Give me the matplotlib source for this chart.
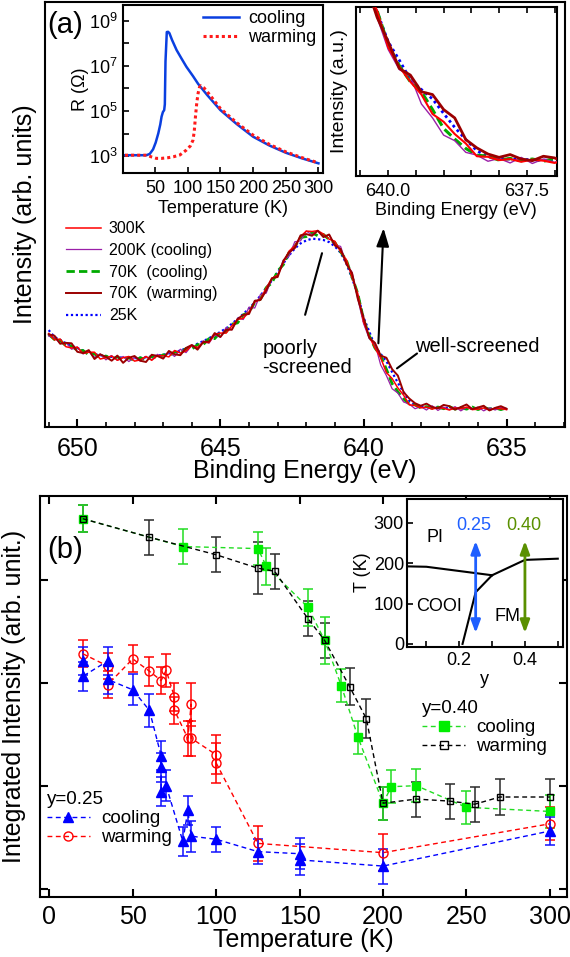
import matplotlib.pyplot as plt
import numpy as np
from matplotlib.lines import Line2D
from matplotlib.ticker import MultipleLocator, FixedLocator, NullFormatter

plt.rcParams['font.family'] = ['Liberation Sans', 'DejaVu Sans']
plt.rcParams['mathtext.fontset'] = 'custom'
plt.rcParams['mathtext.rm'] = 'Liberation Sans'
plt.rcParams['mathtext.default'] = 'regular'
plt.rcParams['axes.linewidth'] = 1.5
plt.rcParams['xtick.direction'] = 'in'
plt.rcParams['ytick.direction'] = 'in'

# ---------------- panel (a): XPS spectra (intensity x1000, arb. units)
energy = np.round(np.arange(651.0, 634.9, -0.2), 1)
spec_300 = [220, 205, 207, 189, 186, 188, 173, 176, 176, 160, 163, 167, 157, 163, 166, 155,
            158, 166, 157, 168, 168, 165, 180, 174, 179, 192, 187, 199, 199, 218, 221, 221,
            238, 253, 256, 271, 294, 301, 327, 350, 357, 387, 414, 426, 448, 461, 460, 462,
            454, 442, 437, 412, 394, 352, 314, 248, 213, 186, 163, 128, 114, 92, 75, 52,
            51, 45, 47, 42, 46, 44, 40, 45, 43, 47, 41, 42, 45, 40, 44, 43, 41]
spec_200c = [214, 211, 196, 199, 183, 188, 172, 178, 164, 172, 158, 168, 157, 166, 154, 164,
             155, 166, 158, 171, 161, 176, 166, 183, 175, 192, 184, 203, 197, 217, 211, 234,
             229, 256, 253, 282, 280, 312, 315, 350, 356, 393, 402, 436, 438, 461, 452, 462,
             447, 452, 428, 425, 384, 364, 302, 244, 208, 196, 146, 121, 90, 80, 59, 54,
             43, 48, 40, 50, 39, 47, 41, 48, 38, 46, 42, 47, 38, 45, 40, 46, 41]
spec_70c = [218, 206, 204, 191, 191, 180, 180, 170, 172, 163, 167, 160, 165, 158, 163, 156,
            163, 158, 166, 162, 170, 167, 177, 174, 185, 183, 194, 194, 208, 208, 223, 224,
            242, 245, 264, 270, 293, 301, 328, 339, 367, 382, 411, 425, 446, 448, 457, 450,
            453, 441, 434, 412, 393, 353, 314, 253, 215, 186, 168, 136, 102, 83, 66, 54,
            52, 45, 48, 44, 47, 43, 48, 42, 46, 42, 47, 41, 46, 42, 45, 41, 45]
spec_70w = [218, 215, 196, 198, 197, 177, 174, 181, 160, 171, 165, 156, 168, 151, 163, 167,
            156, 153, 170, 167, 161, 179, 171, 169, 186, 193, 182, 200, 201, 221, 212, 229,
            229, 254, 264, 266, 297, 299, 321, 350, 353, 391, 411, 421, 451, 454, 450, 462,
            447, 453, 427, 419, 384, 362, 302, 258, 210, 198, 168, 163, 136, 121, 82, 67,
            56, 50, 55, 47, 44, 52, 49, 41, 47, 53, 42, 46, 50, 39, 45, 49, 43]
spec_25 = [228, 212, 205, 197, 191, 186, 180, 176, 171, 169, 167, 165, 164, 163, 162, 162,
           163, 164, 166, 168, 170, 173, 176, 180, 185, 190, 196, 202, 209, 216, 224, 232,
           243, 254, 266, 279, 293, 309, 327, 345, 364, 385, 404, 420, 432, 439, 443, 442,
           440, 435, 425, 410, 385, 350, 312, 258, 225, 190, 172, 155, 129, 104, 82, 62,
           51, 48, 47, 46, 46, 45, 45, 44, 44, 44, 43, 44, 43, 43, 43, 42, 43]
spec_labels = ['300K', '200K (cooling)', '70K  (cooling)', '70K  (warming)', '25K']

# resistance inset (log10 R)
t_cool = [4, 20, 37, 42, 47, 51, 55, 58, 60, 62, 64, 65, 66, 68, 70, 72, 76, 83, 90, 98,
          108, 116, 130, 150, 175, 200, 225, 250, 275, 300]
logr_cool = [3.04, 3.04, 3.04, 3.10, 3.30, 3.60, 4.01, 4.40, 4.75, 4.95, 5.04, 5.30, 7.20,
             8.50, 8.51, 8.45, 8.15, 7.70, 7.35, 6.96, 6.55, 6.20, 5.70, 5.04, 4.42, 3.86,
             3.47, 3.15, 2.90, 2.68]
t_warm = [4, 20, 37, 45, 52, 60, 70, 78, 88, 98, 104, 108, 110, 112, 114, 116, 118, 120,
          125, 130, 150, 175, 200, 225, 250, 275, 300]
logr_warm = [3.04, 3.04, 3.04, 2.96, 2.90, 2.90, 2.93, 2.97, 3.05, 3.27, 3.45, 3.70, 4.10,
             4.80, 5.40, 5.80, 6.05, 6.12, 6.02, 5.85, 5.11, 4.48, 3.93, 3.52, 3.19, 2.93, 2.70]

# ---------------- panel (b): integrated intensity
t_c25 = [20, 20, 35, 35, 50, 60, 67, 67, 67, 70, 80, 83, 85, 100, 125, 150, 150, 200, 300]
i_c25 = [2.21, 2.06, 2.21, 2.03, 1.93, 1.73, 1.29, 1.18, 0.94, 1.00, 0.46, 0.76, 0.51, 0.48,
         0.36, 0.34, 0.28, 0.22, 0.56]
e_c25 = [0.14, 0.14, 0.14, 0.14, 0.15, 0.16, 0.14, 0.14, 0.14, 0.15, 0.14, 0.14, 0.15, 0.12,
         0.12, 0.15, 0.15, 0.17, 0.14]
t_w25 = [20, 35, 35, 50, 60, 67, 70, 75, 75, 83, 85, 85, 100, 100, 125, 200, 300]
i_w25 = [2.28, 2.16, 1.98, 2.23, 2.11, 2.02, 2.12, 1.86, 1.73, 1.46, 1.79, 1.46, 1.30, 1.22,
         0.44, 0.35, 0.63]
e_w25 = [0.13, 0.13, 0.13, 0.13, 0.14, 0.13, 0.16, 0.14, 0.13, 0.17, 0.21, 0.17, 0.19, 0.19,
         0.17, 0.18, 0.16]
t_c40 = [20, 80, 125, 130, 155, 165, 175, 185, 200, 205, 220, 250, 300]
i_c40 = [3.59, 3.32, 3.30, 3.13, 2.73, 2.41, 1.97, 1.47, 0.83, 0.99, 1.00, 0.79, 0.75]
e_c40 = [0.13, 0.17, 0.16, 0.18, 0.18, 0.23, 0.16, 0.16, 0.16, 0.16, 0.16, 0.16, 0.16]
t_w40 = [20, 60, 100, 125, 135, 155, 165, 180, 190, 200, 220, 240, 255, 270, 300]
i_w40 = [3.59, 3.41, 3.24, 3.11, 3.08, 2.62, 2.41, 1.96, 1.65, 0.83, 0.87, 0.85, 0.82, 0.89, 0.89]
e_w40 = [0.13, 0.17, 0.17, 0.25, 0.17, 0.17, 0.17, 0.18, 0.19, 0.16, 0.17, 0.17, 0.17, 0.17, 0.17]

# phase diagram inset
pd_y1, pd_t1 = [0.04, 0.10, 0.30], [192, 191, 170]
pd_y2, pd_t2 = [0.30, 0.40, 0.50], [170, 208, 211]
pd_y3, pd_t3 = [0.30, 0.25, 0.21], [170, 128, 0]
arrow_y = [0.25, 0.40]
arrow_t = (27, 255)

fig = plt.figure(figsize=(5.7, 9.57), dpi=100)

# ================= panel (a)
ax1 = fig.add_axes([0.0789, 0.5538, 0.9123, 0.4441])
styles = [
    dict(color='#ff0000', lw=1.1, ls='-', zorder=4),
    dict(color='#9a1fa8', lw=0.9, ls='-', zorder=3),
    dict(color='#00aa00', lw=2.0, ls=(0, (3, 1.5)), zorder=2),
    dict(color='#9b0000', lw=1.4, ls='-', zorder=5),
    dict(color='#0000ff', lw=1.6, ls=(0, (1, 1.2)), zorder=1),
]
series = [spec_300, spec_200c, spec_70c, spec_70w, spec_25]
handles = []
for s, st, lab in zip(series, styles, spec_labels):
    h, = ax1.plot(energy, np.array(s) / 1000.0, label=lab, **st)
    handles.append(h)
ax1.set_xlim(651.13, 632.96)
ax1.set_ylim(0, 1)
ax1.set_xticks([650, 645, 640, 635])
ax1.xaxis.set_minor_locator(MultipleLocator(1))
ax1.set_yticks([])
ax1.tick_params(axis='x', which='major', labelsize=18, length=6, width=1.5, pad=7)
ax1.tick_params(axis='x', which='minor', length=3.5, width=1.2)
ax1.set_xlabel('Binding Energy (eV)', fontsize=18, labelpad=-1)
ax1.set_ylabel('Intensity (arb. units)', fontsize=18, labelpad=6)
ax1.text(0.004, 0.946, '(a)', transform=ax1.transAxes, fontsize=21, ha='left', va='center')
ax1.legend(handles=handles, loc='upper left', bbox_to_anchor=(0.04, 0.484), frameon=False,
           fontsize=11.5, handlelength=2.2, handletextpad=0.5, labelspacing=0.42,
           borderpad=0, borderaxespad=0)

ax1.text(643.54, 0.1635, 'poorly\n-screened', fontsize=14.5, ha='left', va='center',
         linespacing=1.0)
ax1.annotate('', xy=(641.45, 0.409), xytext=(642.04, 0.264),
             arrowprops=dict(arrowstyle='-', lw=1.5, color='k', shrinkA=0, shrinkB=0))
ax1.annotate('', xy=(639.30, 0.468), xytext=(639.48, 0.197),
             arrowprops=dict(arrowstyle='-|>,head_length=1.1,head_width=0.38', lw=1.5,
                             color='k', shrinkA=0, shrinkB=0))
ax1.text(638.19, 0.189, 'well-screened', fontsize=14.5, ha='left', va='center')
ax1.annotate('', xy=(638.13, 0.173), xytext=(638.83, 0.138),
             arrowprops=dict(arrowstyle='-', lw=1.5, color='k', shrinkA=0, shrinkB=0))

# resistance inset
axr = fig.add_axes([0.2158, 0.8192, 0.3509, 0.1756])
hc, = axr.semilogy(t_cool, 10 ** np.array(logr_cool), color='#0a3fe0', lw=1.8)
hw, = axr.semilogy(t_warm, 10 ** np.array(logr_warm), color='#ff1a1a', lw=2.2, ls=(0, (1, 1)))
axr.set_xlim(1, 307)
axr.set_ylim(10 ** 2.25, 10 ** 9.7)
axr.set_xticks([50, 100, 150, 200, 250, 300])
axr.yaxis.set_major_locator(FixedLocator([1e3, 1e5, 1e7, 1e9]))
axr.set_yticklabels(['$10^{3}$', '$10^{5}$', '$10^{7}$', '$10^{9}$'])
axr.yaxis.set_minor_locator(FixedLocator([1e4, 1e6, 1e8]))
axr.yaxis.set_minor_formatter(NullFormatter())
axr.tick_params(which='both', labelsize=13, length=4, width=1.2)
axr.tick_params(axis='x', pad=5)
axr.tick_params(axis='y', pad=4)
axr.set_xlabel('Temperature (K)', fontsize=13, labelpad=2)
axr.set_ylabel('R (Ω)', fontsize=13, labelpad=0)
axr.legend([hc, hw], ['cooling', 'warming'], loc='upper left', bbox_to_anchor=(0.40, 0.97),
           frameon=False, fontsize=13, handlelength=2.0, handletextpad=0.5,
           labelspacing=0.12, borderpad=0, borderaxespad=0)

# spectrum zoom inset
axs = fig.add_axes([0.6246, 0.8164, 0.3521, 0.176])
inset_lw = [1.5, 1.0, 2.2, 2.0, 2.0]
for s, st, lw in zip(series, styles, inset_lw):
    st2 = dict(st)
    st2['lw'] = lw
    axs.plot(energy, np.array(s) / 1000.0, **st2)
axs.set_xlim(640.58, 636.96)
axs.set_ylim(0.017, 0.32)
axs.set_xticks([640.0, 637.5])
axs.set_xticklabels(['640.0', '637.5'])
axs.xaxis.set_minor_locator(MultipleLocator(0.5))
axs.set_yticks([])
axs.tick_params(axis='x', which='both', labelsize=13, length=4, width=1.2, top=True, pad=5)
axs.set_xlabel('Binding Energy (eV)', fontsize=13, labelpad=2)
axs.set_ylabel('Intensity (a.u.)', fontsize=14, labelpad=6)

# ================= panel (b)
ax2 = fig.add_axes([0.0702, 0.0627, 0.9237, 0.419])
dash = (0, (3.5, 2.5))
ax2.errorbar(t_w40, i_w40, yerr=e_w40, fmt='none', ecolor='#2a2a2a', elinewidth=1.1,
             capsize=3.5, capthick=1.1, zorder=2)
ax2.errorbar(t_c40, i_c40, yerr=e_c40, fmt='none', ecolor='#22dd22', elinewidth=1.1,
             capsize=3.5, capthick=1.1, zorder=2)
ax2.plot(t_c40, i_c40, ls=dash, lw=1, color='#22dd22', marker='s', ms=5.5,
         mfc='#00ee00', mec='#00ee00', zorder=3)
ax2.plot(t_w40, i_w40, ls=dash, lw=1, color='k', marker='s', ms=4.5,
         mfc='none', mec='k', mew=1, zorder=4)
ax2.errorbar(t_w25, i_w25, yerr=e_w25, fmt='none', ecolor='#ff0000', elinewidth=1.1,
             capsize=3.5, capthick=1.1, zorder=2)
ax2.errorbar(t_c25, i_c25, yerr=e_c25, fmt='none', ecolor='#1010ff', elinewidth=1.1,
             capsize=3.5, capthick=1.1, zorder=2)
ax2.plot(t_w25, i_w25, ls=dash, lw=1, color='#ff0000', marker='o', ms=6.5,
         mfc='none', mec='#ff0000', mew=1, zorder=3)
ax2.plot(t_c25, i_c25, ls=dash, lw=1, color='#0000ff', marker='^', ms=7,
         mfc='#0000ff', mec='#0000ff', zorder=4)
ax2.set_xlim(-5.6, 310)
ax2.set_ylim(-0.08, 3.81)
ax2.set_xticks([0, 50, 100, 150, 200, 250, 300])
ax2.set_yticks([0, 1, 2, 3])
ax2.set_yticklabels([])
ax2.tick_params(which='both', labelsize=18, length=6, width=1.5, top=True, right=True, pad=6)
ax2.set_xlabel('Temperature (K)', fontsize=18, labelpad=-1)
ax2.set_ylabel('Integrated Intensity (arb. unit.)', fontsize=18, labelpad=4)
ax2.text(0.013, 0.865, '(b)', transform=ax2.transAxes, fontsize=21, ha='left', va='center')

h_c25 = Line2D([], [], ls=dash, lw=1, color='#0000ff', marker='^', ms=7)
h_w25 = Line2D([], [], ls=dash, lw=1, color='#ff0000', marker='o', ms=6.5, mfc='none')
h_c40 = Line2D([], [], ls=dash, lw=1, color='#22dd22', marker='s', ms=7, mfc='#00ee00',
               mec='#00ee00')
h_w40 = Line2D([], [], ls=dash, lw=1, color='k', marker='s', ms=5.5, mfc='none')
leg_kw = dict(frameon=False, fontsize=13.5, title_fontsize=13.5, alignment='left',
              handlelength=2.3, handletextpad=0.6, labelspacing=0.1, borderpad=0,
              borderaxespad=0)
leg1 = ax2.legend([h_c25, h_w25], ['cooling', 'warming'], title='y=0.25', loc='upper left',
                  bbox_to_anchor=(0.013, 0.264), **leg_kw)
ax2.add_artist(leg1)
ax2.legend([h_c40, h_w40], ['cooling', 'warming'], title='y=0.40', loc='upper left',
           bbox_to_anchor=(0.7255, 0.491), **leg_kw)

# phase diagram inset
ax3 = fig.add_axes([0.7135, 0.3242, 0.2737, 0.1549])
for px, pt in [(pd_y1, pd_t1), (pd_y2, pd_t2), (pd_y3, pd_t3)]:
    ax3.plot(px, pt, color='k', lw=1.5)
for yv, col in zip(arrow_y, ['#1f5fff', '#5a9000']):
    ax3.annotate('', xy=(yv, arrow_t[1]), xytext=(yv, arrow_t[0]),
                 arrowprops=dict(arrowstyle='<|-|>,head_length=0.75,head_width=0.28',
                                 color=col, lw=2, shrinkA=0, shrinkB=0))
ax3.text(0.245, 293, '0.25', color='#1f5fff', fontsize=13, ha='center', va='center')
ax3.text(0.397, 293, '0.40', color='#5a9000', fontsize=13, ha='center', va='center')
ax3.text(0.126, 263, 'PI', fontsize=13, ha='center', va='center')
ax3.text(0.138, 93, 'COOI', fontsize=13, ha='center', va='center')
ax3.text(0.347, 68, 'FM', fontsize=13, ha='center', va='center')
ax3.set_xlim(0.04, 0.515)
ax3.set_ylim(-7, 360)
ax3.set_xticks([0.2, 0.4])
ax3.set_xticklabels(['0.2', '0.4'])
ax3.xaxis.set_minor_locator(FixedLocator([0.1, 0.3, 0.5]))
ax3.set_yticks([0, 100, 200, 300])
ax3.tick_params(which='both', labelsize=13, length=4, width=1.2)
ax3.tick_params(axis='x', pad=4)
ax3.tick_params(axis='y', pad=2)
ax3.set_xlabel('y', fontsize=13, labelpad=1)
ax3.set_ylabel('T (K)', fontsize=13, labelpad=2)

fig.savefig('out.png', dpi=100)
